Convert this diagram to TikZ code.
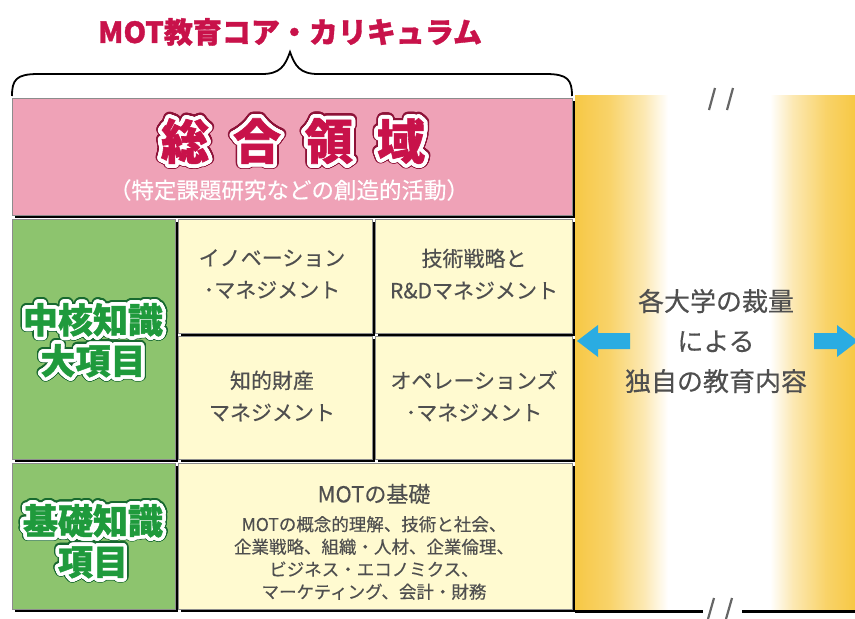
\documentclass[tikz,border=0pt]{standalone}
\usepackage{fontspec}
\setmainfont{Noto Sans CJK JP}
\newfontfamily\heavyfont{Noto Sans CJK JP}[BoldFeatures={FakeBold=1.2}]
\newfontfamily\medfont{Noto Sans CJK JP}[FakeBold=0.35]
\usepackage[copies]{contour}
\contournumber{32}
\usetikzlibrary{shadows}
\definecolor{crim}{HTML}{C8124A}
\definecolor{crimdark}{HTML}{8E1238}
\definecolor{pinkfill}{HTML}{EFA2B7}
\definecolor{greenfill}{HTML}{8DC46E}
\definecolor{greentext}{HTML}{1F9A3C}
\definecolor{greendark}{HTML}{17692F}
\definecolor{cellfill}{HTML}{FFFAD0}
\definecolor{txtgray}{HTML}{4F4F4F}
\definecolor{gold}{HTML}{F7C845}
\definecolor{arrowblue}{HTML}{2AACE2}
\tikzset{
  box/.style={draw=black!45, line width=0.5pt, inner sep=0pt, align=center,
    drop shadow={shadow xshift=2.5pt, shadow yshift=-2.5pt, fill=black, opacity=1}},
  celltext/.style={text=txtgray, align=center, font=\medfont\fontsize{21}{32}\selectfont},
  bigchar/.style={font=\heavyfont\bfseries\fontsize{48}{48}\selectfont},
  greenlabel/.style={font=\heavyfont\bfseries\fontsize{35}{41}\selectfont, align=center},
  slash/.style={draw=black!60, line width=2.2pt},
}
\begin{document}
\begin{tikzpicture}[x=1pt,y=-1pt]
\useasboundingbox (0,0) rectangle (855,619);
\fill[white] (0,0) rectangle (855,619);

% title and brace
\node[text=crim, font=\heavyfont\bfseries\fontsize{29}{29}\selectfont] (title) at (290,32) {MOT教育コア・カリキュラム};
\draw[line width=1.8pt] (12,96) .. controls (12,80) and (16,74) .. (38,74)
  -- (262,74) .. controls (280,74) and (285,66) .. (290,52)
  .. controls (295,66) and (300,74) .. (318,74)
  -- (546,74) .. controls (568,74) and (572,80) .. (572,96);

% right gold column
\shade[left color=gold, right color=gold!80] (575,95) rectangle (610,610);
\shade[left color=gold!80, right color=gold!40] (609.5,95) rectangle (645,610);
\shade[left color=gold!40, right color=white] (644.5,95) rectangle (668,610);
\shade[left color=white, right color=gold!40] (770,95) rectangle (792.5,610);
\shade[left color=gold!40, right color=gold!80] (792,95) rectangle (825.5,610);
\shade[left color=gold!80, right color=gold] (825,95) rectangle (855,610);
\draw[line width=3pt] (575,611) -- (855,611);
\fill[white] (703,603) rectangle (742,619);
\draw[slash] (708,619) -- (714,598);
\draw[slash] (726,619) -- (732,598);
\draw[slash] (709,110) -- (715,88);
\draw[slash] (727,110) -- (733,88);

% boxes
\node[box, fill=pinkfill, minimum width=560pt, minimum height=117pt] (sogo) at (292,156.5) {};
\node[box, fill=greenfill, minimum width=163pt, minimum height=240pt] (chukaku) at (93.5,339) {};
\node[box, fill=cellfill, minimum width=194pt, minimum height=114pt] (inno) at (275,276) {};
\node[box, fill=cellfill, minimum width=197pt, minimum height=114pt] (tech) at (473.5,276) {};
\node[box, fill=cellfill, minimum width=194pt, minimum height=123pt] (ip) at (275,397.5) {};
\node[box, fill=cellfill, minimum width=197pt, minimum height=123pt] (ops) at (473.5,397.5) {};
\node[box, fill=greenfill, minimum width=163pt, minimum height=146pt] (kiso) at (93.5,536) {};
\node[box, fill=cellfill, minimum width=394pt, minimum height=146pt] (basics) at (375,536) {};

% 総合領域
\foreach \ch/\xx in {総/185,合/257,領/329,域/401}{
  \node[bigchar, text=crimdark] at (\xx,143) {\contourlength{5.5pt}\contour{crimdark}{\ch}};
  \node[bigchar, text=crim] at (\xx,143) {\contourlength{3.8pt}\contour{white}{\ch}};
}
\node[text=white, font=\medfont\fontsize{22.5}{22.5}\selectfont] (sogosub) at (289,190) {（特定課題研究などの創造的活動）};

% green labels
\node[greenlabel, text=greendark] at (93,342) {\contourlength{5pt}\contour{greendark}{中核知識}\\\contourlength{5pt}\contour{greendark}{大項目}};
\node[greenlabel, text=greentext] (chukakutext) at (93,342) {\contourlength{3.5pt}\contour{white}{中核知識}\\\contourlength{3.5pt}\contour{white}{大項目}};
\node[greenlabel, text=greendark] at (93,543) {\contourlength{5pt}\contour{greendark}{基礎知識}\\\contourlength{5pt}\contour{greendark}{項目}};
\node[greenlabel, text=greentext] (kisotext) at (93,543) {\contourlength{3.5pt}\contour{white}{基礎知識}\\\contourlength{3.5pt}\contour{white}{項目}};

% cell texts
\node[celltext] (innotext) at (272,274) {イノベーション\\･マネジメント};
\node[celltext] (techtext) at (474,274) {技術戦略と\\R\&Dマネジメント};
\node[celltext] (iptext) at (272,396) {知的財産\\マネジメント};
\node[celltext] (opstext) at (474,396) {オペレーションズ\\･マネジメント};
\node[text=txtgray, font=\medfont\fontsize{22}{22}\selectfont] (basicstitle) at (374,494) {MOTの基礎};
\node[text=txtgray, align=center, font=\medfont\fontsize{17.5}{22.5}\selectfont] (basicslist) at (374,558) {MOTの概念的理解、技術と社会、\\企業戦略、組織・人材、企業倫理、\\ビジネス・エコノミクス、\\マーケティング、会計・財務};

% right text
\node[text=txtgray, align=center, font=\medfont\fontsize{26}{40}\selectfont] (univ) at (716,341) {各大学の裁量\\による\\独自の教育内容};

% arrows
\fill[arrowblue] (577,341) -- (598,325) -- (598,333) -- (630,333) -- (630,349) -- (598,349) -- (598,357) -- cycle;
\fill[arrowblue] (858,341) -- (837,325) -- (837,333) -- (814,333) -- (814,349) -- (837,349) -- (837,357) -- cycle;
\end{tikzpicture}
\end{document}
